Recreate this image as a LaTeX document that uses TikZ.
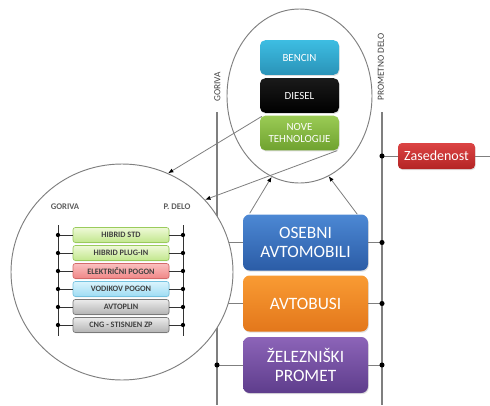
\documentclass[tikz,border=0pt]{standalone}
\usepackage{fontspec}
\setmainfont{Carlito}
\usetikzlibrary{shapes.geometric,arrows.meta,shadows,calc}

\definecolor{linegray}{HTML}{7F7F7F}
\definecolor{labelgray}{HTML}{404040}
\definecolor{bencinT}{HTML}{3DBDE2}\definecolor{bencinB}{HTML}{2A93B8}
\definecolor{dieselT}{HTML}{1A1A1A}\definecolor{dieselB}{HTML}{000000}
\definecolor{noveT}{HTML}{9BCB55}\definecolor{noveB}{HTML}{6FA22F}
\definecolor{osebT}{HTML}{4C88D4}\definecolor{osebB}{HTML}{2B5CA6}
\definecolor{busT}{HTML}{F99B33}\definecolor{busB}{HTML}{E3771B}
\definecolor{zelT}{HTML}{8C64B8}\definecolor{zelB}{HTML}{5E3D8C}
\definecolor{zasT}{HTML}{DC4444}\definecolor{zasB}{HTML}{B42424}
\definecolor{grnT}{HTML}{EEF9D8}\definecolor{grnB}{HTML}{C2E78C}\definecolor{grnD}{HTML}{9ACB5C}
\definecolor{redT}{HTML}{FAC0C0}\definecolor{redB}{HTML}{F08686}\definecolor{redD}{HTML}{D46A6A}
\definecolor{cyaT}{HTML}{DAF4FD}\definecolor{cyaB}{HTML}{9EDCF3}\definecolor{cyaD}{HTML}{76C3E0}
\definecolor{gryT}{HTML}{EBEBEB}\definecolor{gryB}{HTML}{B3B3B3}\definecolor{gryD}{HTML}{7A7A7A}

\tikzset{
  mainline/.style={draw=linegray, line width=0.8pt},
  conn/.style={draw=linegray, line width=0.7pt},
  arr/.style={draw=linegray, line width=0.6pt, -{Latex[length=4pt,width=3.2pt,color=black]}},
  ringline/.style={draw=linegray, line width=0.7pt, fill=white},
  bigbox/.style={rectangle, rounded corners=5pt, minimum width=93.75pt, minimum height=42pt,
    align=center, text=white, font=\fontsize{13}{14.5}\selectfont,
    drop shadow={opacity=0.25, shadow xshift=0.6pt, shadow yshift=-0.9pt}},
  fuelbox/.style={rectangle, rounded corners=4pt, minimum width=59.25pt, minimum height=26pt,
    align=center, text=white, font=\fontsize{8.2}{9}\selectfont,
    drop shadow={opacity=0.25, shadow xshift=0.5pt, shadow yshift=-0.8pt}},
  rowbox/.style={rectangle, rounded corners=1.8pt, minimum width=72pt, minimum height=11.25pt,
    inner sep=0pt, line width=0.5pt, text=labelgray, font=\fontsize{6.2}{7}\selectfont\bfseries,
    drop shadow={opacity=0.2, shadow xshift=0.4pt, shadow yshift=-0.6pt}},
  axislabel/.style={text=labelgray, font=\fontsize{7}{8}\selectfont, inner sep=0pt},
  innerlabel/.style={text=labelgray!85, font=\fontsize{6.5}{7}\selectfont\bfseries, inner sep=0pt},
  innerline/.style={draw=black!80, line width=0.6pt},
}

\begin{document}
\begin{tikzpicture}[x=0.75pt,y=-0.75pt]
\useasboundingbox (0,0) rectangle (490,405);

% main vertical axes
\coordinate (gTop) at (217,112);
\coordinate (gBot) at (217,405);
\coordinate (pTop) at (382,112);
\coordinate (pBot) at (382,405);
\draw[mainline] (gTop) -- (gBot);
\draw[mainline] (pTop) -- (pBot);
\node[axislabel, rotate=90] (lblGoriva) at (217.5,87) {GORIVA};
\node[axislabel, rotate=90] (lblPromet) at (381,67) {PROMETNO DELO};

% transport modes
\node[bigbox, top color=osebT, bottom color=osebB] (osebni) at (305.5,242.5) {OSEBNI\\AVTOMOBILI};
\node[bigbox, top color=busT, bottom color=busB] (bus) at (305.5,303.5) {AVTOBUSI};
\node[bigbox, top color=zelT, bottom color=zelB] (zel) at (305.5,365) {ŽELEZNIŠKI\\PROMET};

% links of the modes to both axes
\foreach \m in {osebni,bus,zel}{
  \draw[conn] (gTop |- \m.west) -- (\m.west);
  \draw[conn] (\m.east) -- (pTop |- \m.east);
  \fill[black] (pTop |- \m.east) circle (1.9pt);
}
\fill[black] (gTop |- zel.west) circle (1.9pt);

% occupancy
\node[rectangle, rounded corners=3pt, minimum width=57.75pt, minimum height=19.5pt,
  text=white, font=\fontsize{10.5}{12}\selectfont, top color=zasT, bottom color=zasB,
  drop shadow={opacity=0.25, shadow xshift=0.5pt, shadow yshift=-0.8pt}] (zas) at (436.5,156) {Zasedenost};
\coordinate (zasEnd) at (490,156);
\draw[conn] (pTop |- zas.west) -- (zas.west);
\draw[conn] (zas.east) -- (zasEnd);
\fill[black] (pTop |- zas.west) circle (1.9pt);

% detail circle of new technologies
\node[ringline, ellipse, minimum width=166.5pt, minimum height=162pt, inner sep=0pt] (bigC) at (122,272) {};
\node[innerlabel] (inG) at (65,207) {GORIVA};
\node[innerlabel] (inP) at (177,207) {P. DELO};
\coordinate (ilTop) at (58,225);
\coordinate (ilBot) at (58,336);
\coordinate (irTop) at (183,225);
\coordinate (irBot) at (183,336);
\draw[innerline] (ilTop) -- (ilBot);
\draw[innerline] (irTop) -- (irBot);

\node[rowbox, draw=grnD, top color=grnT, bottom color=grnB] (r1) at (121,235) {HIBRID STD};
\node[rowbox, draw=grnD, top color=grnT, bottom color=grnB] (r2) at (121,253) {HIBRID PLUG-IN};
\node[rowbox, draw=redD, top color=redT, bottom color=redB] (r3) at (121,271) {ELEKTRIČNI POGON};
\node[rowbox, draw=cyaD, top color=cyaT, bottom color=cyaB] (r4) at (121,289) {VODIKOV POGON};
\node[rowbox, draw=gryD, top color=gryT, bottom color=gryB] (r5) at (121,307) {AVTOPLIN};
\node[rowbox, draw=gryD, top color=gryT, bottom color=gryB] (r6) at (121,325) {CNG - STISNJEN ZP};
\foreach \r in {r1,r2,r3,r4,r5,r6}{
  \draw[innerline] (ilTop |- \r.west) -- (\r.west);
  \draw[innerline] (\r.east) -- (irTop |- \r.east);
  \fill[black] (ilTop |- \r.west) circle (1.6pt);
  \fill[black] (irTop |- \r.east) circle (1.6pt);
}

% fuels circle
\node[ringline, ellipse, minimum width=108.75pt, minimum height=130.5pt, inner sep=0pt] (topC) at (299.5,96) {};
\node[fuelbox, top color=bencinT, bottom color=bencinB] (bencin) at (299.5,57.5) {BENCIN};
\node[fuelbox, top color=dieselT, bottom color=dieselB] (diesel) at (299.5,95.5) {DIESEL};
\node[fuelbox, top color=noveT, bottom color=noveB] (nove) at (299.5,133) {NOVE\\TEHNOLOGIJE};

% arrows
\draw[arr] ($(nove.north west)+(2,1)$) -- (bigC.65);
\draw[arr] ($(nove.south east)+(-2,0)$) -- (bigC.41);
\draw[arr] ($(osebni.north west)+(7,-1)$) -- (topC.251);
\draw[arr] ($(osebni.north east)+(-11,0)$) -- (topC.290);
\end{tikzpicture}
\end{document}
